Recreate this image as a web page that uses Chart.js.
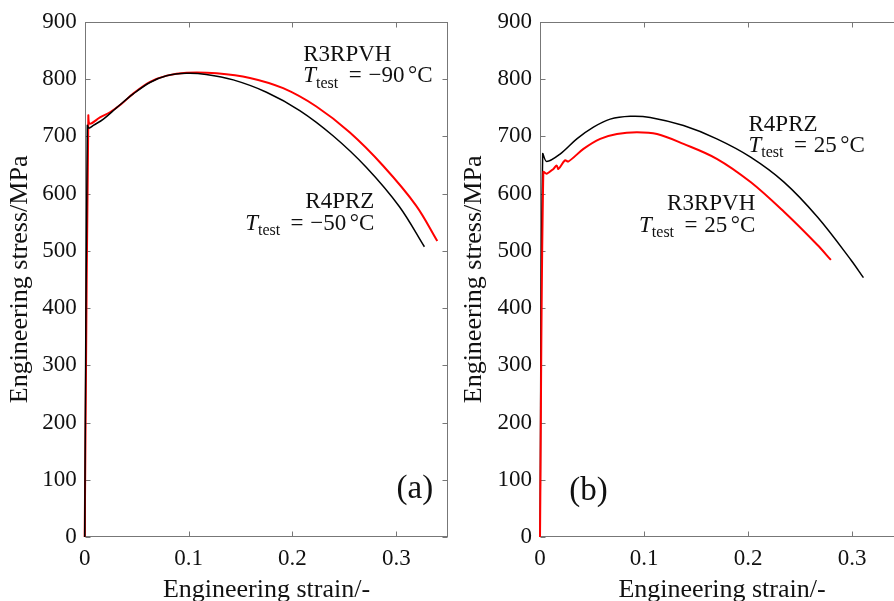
<!DOCTYPE html>
<html><head><meta charset="utf-8">
<script src="https://cdn.jsdelivr.net/npm/chart.js@4/dist/chart.umd.min.js"></script>
<style>
html,body{margin:0;padding:0;background:#fff;overflow:hidden}
#wrap{position:relative;width:894px;height:601px;overflow:hidden;background:#fff}
#ca{position:absolute;left:0;top:0}
#cb{position:absolute;left:450px;top:0}
</style></head><body>
<div id="wrap"><canvas id="ca" width="460" height="601"></canvas><canvas id="cb" width="470" height="601"></canvas></div>
<script>
// ---- data: panel (a) ----
const strainA_R4PRZ = [0, 0.0025, 0.004, 0.0083, 0.018, 0.0308, 0.0467, 0.0628, 0.0788, 0.098, 0.117, 0.143, 0.175, 0.207, 0.239, 0.271, 0.303, 0.327];
const stressA_R4PRZ = [0, 719, 714, 719, 730, 750, 774, 794, 805.6, 810, 808, 798.5, 777, 745, 701, 646, 577, 507];
const strainA_R3RPVH = [0, 0.0035, 0.005, 0.0147, 0.0243, 0.035, 0.047, 0.063, 0.079, 0.098, 0.127, 0.159, 0.191, 0.223, 0.255, 0.287, 0.319, 0.3394];
const stressA_R3RPVH = [0, 736, 722, 733, 742, 756, 775, 795, 806, 811, 810, 802, 784, 752, 707, 649, 579, 517];
// ---- data: panel (b) ----
const strainB_R4PRZ = [0, 0.0026, 0.0064, 0.0193, 0.0354, 0.0514, 0.0675, 0.0868, 0.106, 0.138, 0.170, 0.2025, 0.2346, 0.2668, 0.299, 0.311];
const stressB_R4PRZ = [0, 669, 656, 669, 695.5, 716, 730, 735, 733, 718.7, 695.5, 663.6, 620, 559, 484, 453];
const strainB_R3RPVH = [0, 0.0032, 0.0064, 0.0129, 0.016, 0.0177, 0.024, 0.0273, 0.0418, 0.0579, 0.074, 0.0932, 0.1125, 0.138, 0.170, 0.2025, 0.2346, 0.2668, 0.2797];
const stressB_R3RPVH = [0, 637.6, 634.7, 643, 649, 643, 658, 656, 678, 695.5, 704, 707, 704, 686.8, 660.7, 620, 568, 510, 484];
// ---- axes ----
const xTitle = 'Engineering strain/-';
const yTitle = 'Engineering stress/MPa';
const xRange = [0, 0.35], xStep = 0.1;
const yRange = [0, 900], yStep = 100;
// ---- annotations (data coordinates of text anchors) ----
const annoA = [
  {text:'R3RPVH', x:0.2104, y:831.7, align:'left'},
  {temp:'\u221290', x:0.2104, y:794, align:'left'},
  {text:'R4PRZ', x:0.2788, y:573.9, align:'right'},
  {temp:'\u221250', x:0.2788, y:536.6, align:'right'},
  {text:'(a)', x:0.3355, y:67.8, align:'right', big:true}
];
const annoB = [
  {text:'R4PRZ', x:0.2005, y:710.1, align:'left'},
  {temp:'25', x:0.2005, y:672.4, align:'left'},
  {text:'R3RPVH', x:0.207, y:571, align:'right'},
  {temp:'25', x:0.207, y:533.5, align:'right'},
  {text:'(b)', x:0.0282, y:64.3, align:'left', big:true}
];

const FAM = '"Liberation Serif", "Times New Roman", serif';
const pts = (xs, ys) => xs.map((v, i) => ({x: v, y: ys[i]}));

function drawParts(ctx, parts, x, y, align){
  let total = 0;
  parts.forEach(p => { if (p.gap) { p.w = p.gap; } else { ctx.font = p.f; p.w = ctx.measureText(p.t).width; } total += p.w; });
  let cx = align === 'right' ? x - total : x;
  ctx.textBaseline = 'alphabetic'; ctx.textAlign = 'left';
  parts.forEach(p => { if (!p.gap) { ctx.font = p.f; ctx.fillText(p.t, cx, y + (p.dy || 0)); } cx += p.w; });
}
function tempParts(val, s){
  const f = `${s}px ${FAM}`;
  return [
    {t:'T', f:`italic ${s}px ${FAM}`},
    {t:'test', f:`${Math.round(s*0.7)}px ${FAM}`, dy:s*0.22},
    {gap:s*0.45},
    {t:'=', f},
    {gap:s*0.3},
    {t:val, f},
    {gap:s*0.15},
    {t:'\u00B0C', f}
  ];
}
function annoPlugin(list){
  return {
    id:'annos',
    afterDatasetsDraw(chart){
      const {ctx, scales:{x, y}} = chart;
      ctx.save(); ctx.fillStyle = '#111';
      list.forEach(a => {
        const px = x.getPixelForValue(a.x), py = y.getPixelForValue(a.y);
        if (a.temp) drawParts(ctx, tempParts(a.temp, 23), px, py, a.align);
        else drawParts(ctx, [{t:a.text, f:`${a.big ? 33 : 23}px ${FAM}`}], px, py, a.align);
      });
      ctx.restore();
    }
  };
}
const framePlugin = {
  id:'frame',
  beforeDatasetsDraw(chart){
    const {ctx, chartArea:a, scales:{x, y}} = chart;
    const L = Math.round(a.left) + 0.5, R = Math.round(a.right) - 0.5, T = Math.round(a.top) + 0.5, B = Math.round(a.bottom) - 0.5;
    ctx.save(); ctx.strokeStyle = '#777'; ctx.lineWidth = 1;
    ctx.strokeRect(L, T, R - L, B - T);
    ctx.beginPath();
    x.ticks.forEach(t => { const p = Math.round(x.getPixelForValue(t.value)) + 0.5; ctx.moveTo(p, B); ctx.lineTo(p, B - 5); ctx.moveTo(p, T); ctx.lineTo(p, T + 5); });
    y.ticks.forEach(t => { const p = Math.round(y.getPixelForValue(t.value)) + 0.5; ctx.moveTo(L, p); ctx.lineTo(L + 5, p); ctx.moveTo(R, p); ctx.lineTo(R - 5, p); });
    ctx.stroke(); ctx.restore();
  }
};

function makeChart(id, datasets, yWidth, rightPad, yTitlePad, annos){
  return new Chart(document.getElementById(id), {
    type:'line',
    data:{datasets},
    plugins:[framePlugin, annoPlugin(annos)],
    options:{
      responsive:false, animation:false, devicePixelRatio:1,
      layout:{padding:{top:19, right:rightPad, bottom:0, left:0}},
      plugins:{legend:{display:false}, tooltip:{enabled:false}},
      elements:{point:{radius:0}, line:{tension:0.35, capBezierPoints:false}},
      scales:{
        x:{type:'linear', min:xRange[0], max:xRange[1],
          ticks:{stepSize:xStep, includeBounds:false, padding:8, color:'#111', maxRotation:0, autoSkip:false,
            font:{family:FAM, size:23}, callback:v => v === 0 ? '0' : v.toFixed(1)},
          grid:{display:false, drawTicks:false}, border:{display:false},
          title:{display:true, text:xTitle, color:'#111', font:{family:FAM, size:26, lineHeight:'22px'}, padding:{top:0, bottom:0}},
          afterFit(s){ s.height = 64; }
        },
        y:{type:'linear', min:yRange[0], max:yRange[1],
          ticks:{stepSize:yStep, padding:8, color:'#111', font:{family:FAM, size:23}, callback:v => String(v)},
          grid:{display:false, drawTicks:false}, border:{display:false},
          title:{display:true, text:yTitle, color:'#111', font:{family:FAM, size:26, lineHeight:'22px'}, padding:{top:yTitlePad, bottom:0}},
          afterFit(s){ s.width = yWidth; }
        }
      }
    }
  });
}

makeChart('ca', [
  {data:pts(strainA_R4PRZ, stressA_R4PRZ), borderColor:'#000', borderWidth:1.5, clip:false},
  {data:pts(strainA_R3RPVH, stressA_R3RPVH), borderColor:'#ff0000', borderWidth:2, clip:false}
], 84.7, 11.7, 9.5, annoA);

makeChart('cb', [
  {data:pts(strainB_R3RPVH, stressB_R3RPVH), borderColor:'#ff0000', borderWidth:2, clip:false},
  {data:pts(strainB_R4PRZ, stressB_R4PRZ), borderColor:'#000', borderWidth:1.5, clip:false}
], 90, 16, 13.2, annoB);
</script>
</body></html>
